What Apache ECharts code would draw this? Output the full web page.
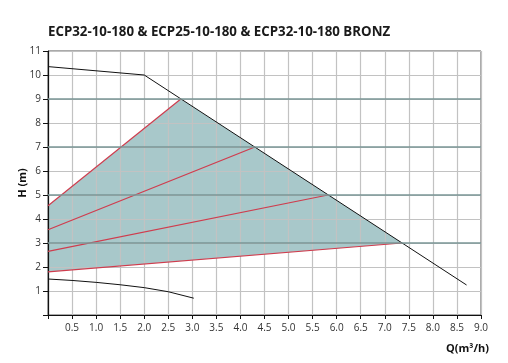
<!DOCTYPE html>
<html><head><meta charset="utf-8">
<script src="https://cdn.jsdelivr.net/npm/echarts@6/dist/echarts.min.js"></script>
<style>html,body{margin:0;padding:0;background:#fff}#c{width:508px;height:363px}</style>
</head><body><div id="c"></div>
<script>
const title = "ECP32-10-180 & ECP25-10-180 & ECP32-10-180 BRONZ";
const xName = "Q(m³/h)";
const yName = "H (m)";
const maxCurve = [[0,10.35],[2.0,10.0],[8.7,1.25]];
const minCurve = [[0,1.5],[0.5,1.44],[1.0,1.36],[1.5,1.26],[2.0,1.14],[2.5,0.97],[3.03,0.7]];
const red1 = [[0,1.8],[7.36,3.0]];
const red2 = [[0,2.65],[5.82,5.0]];
const red3 = [[0,3.55],[4.3,7.0]];
const red4 = [[0,4.55],[2.76,9.0]];
const fillPolygon = [[0,1.8],[7.36,3.0],[2.76,9.0],[0,4.55]];
const darkGridY = [3,5,7,9];

const chart = echarts.init(document.getElementById('c'), null, {renderer:'canvas'});
const font = "'Open Sans', sans-serif";
function lineSeries(data, color, w, z){
  return {type:'line', data:data, showSymbol:false, symbol:'none', z:z,
    lineStyle:{color:color, width:w}, animation:false, silent:true};
}
chart.setOption({
  animation:false,
  title:{text:title, left:43, top:21, textStyle:{fontFamily:font, fontWeight:'bold', fontSize:13.3, color:'#1a1a1a'}},
  grid:{left:48, right:27, top:51, bottom:48, show:true, borderColor:'#555', borderWidth:1},
  xAxis:{type:'value', min:0, max:9, interval:0.5, z:2,
    axisLine:{lineStyle:{color:'#111', width:1.2}},
    axisTick:{show:true, length:4, lineStyle:{color:'#111'}},
    axisLabel:{color:'#333', fontFamily:font, fontSize:10, margin:8,
      formatter:v => v===0 ? '' : v.toFixed(1)},
    splitLine:{show:true, lineStyle:{color:'#c2c2c2', width:1.2}},
    name:xName, nameLocation:'end', nameGap:0, nameMoveOverlap:false,
    nameTextStyle:{fontFamily:font, fontWeight:'bold', fontSize:11, color:'#111', align:'right', verticalAlign:'top', padding:[28,-8,0,0]}
  },
  yAxis:{type:'value', min:0, max:11, interval:1, z:2,
    axisLine:{show:true, lineStyle:{color:'#111', width:1.2}},
    axisTick:{show:true, length:5, lineStyle:{color:'#111'}},
    axisLabel:{color:'#333', fontFamily:font, fontSize:10, margin:7,
      formatter:v => v===0 ? '' : String(v)},
    splitLine:{show:true, lineStyle:{color:'#c2c2c2', width:1}},
    name:yName, nameLocation:'middle', nameGap:20, nameRotate:90, nameMoveOverlap:false,
    nameTextStyle:{fontFamily:font, fontWeight:'bold', fontSize:11, color:'#111'}
  },
  series:[
    {type:'custom', z:1, silent:true, data:fillPolygon,
      renderItem:function(params, api){
        if(params.dataIndex!==0) return;
        const pts = fillPolygon.map(p => api.coord(p));
        return {type:'polygon', shape:{points:pts}, style:{fill:'rgba(110,163,167,0.6)', stroke:null}};
      },
      markLine:{silent:true, symbol:'none', label:{show:false},
        lineStyle:{color:'#7a9696', width:1.5, type:'solid'},
        data: darkGridY.map(v => ({yAxis:v}))}
    },
    lineSeries(red1,'#cf3d4e',1.2,3),
    lineSeries(red2,'#cf3d4e',1.2,3),
    lineSeries(red3,'#cf3d4e',1.2,3),
    lineSeries(red4,'#cf3d4e',1.2,3),
    lineSeries(maxCurve,'#111',1,4),
    lineSeries(minCurve,'#111',1,4)
  ]
});
</script></body></html>
